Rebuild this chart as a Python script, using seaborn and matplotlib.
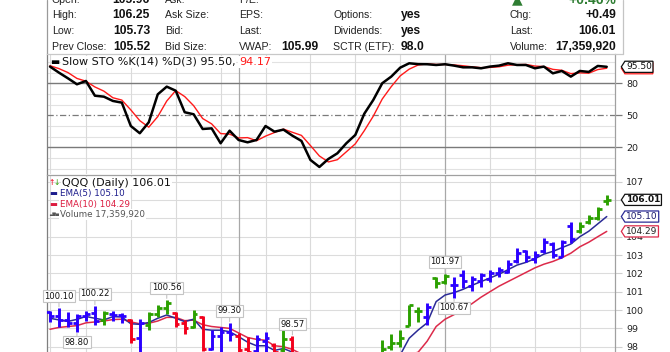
import matplotlib
matplotlib.use("Agg")
import matplotlib.pyplot as plt
from matplotlib.lines import Line2D
from matplotlib.path import Path
import numpy as np
import pandas as pd
import seaborn as sns

# ---------------- data ----------------
sto_k = [95.7, 90.0, 84.7, 79.1, 82.2, 68.4, 67.5, 63.5, 61.9, 40.0,
         33.2, 43.5, 69.7, 76.9, 73.1, 52.9, 51.0, 37.2, 37.8, 23.8,
         35.6, 26.9, 24.7, 26.9, 40.0, 34.7, 36.6, 30.9, 26.0, 8.2,
         1.6, 9.1, 14.4, 23.8, 31.6, 51.5, 64.4, 80.1, 86.3, 94.7,
         98.8, 98.0, 97.9, 97.2, 97.9, 96.6, 95.0, 95.0, 94.1, 95.7,
         96.6, 98.8, 97.2, 97.2, 94.1, 95.7, 89.4, 91.6, 86.3, 91.6,
         90.7, 96.3, 95.5]
sto_d = [96.5, 93.8, 90.1, 84.6, 82.0, 76.6, 72.7, 66.5, 64.3, 55.1,
         45.0, 38.9, 48.8, 63.4, 73.2, 67.6, 59.0, 47.0, 42.0, 32.9,
         32.4, 28.8, 29.1, 26.2, 30.5, 33.9, 37.1, 34.1, 31.2, 21.7,
         11.9, 6.3, 8.4, 15.8, 23.3, 35.6, 49.2, 65.3, 76.9, 87.0,
         93.3, 97.2, 98.2, 97.7, 97.7, 97.2, 96.5, 95.5, 94.7, 94.9,
         95.5, 97.0, 97.5, 97.7, 96.2, 95.7, 93.1, 92.2, 89.1, 89.8,
         89.5, 92.9, 94.17]

opens = [99.90, 99.65, 99.45, 99.30, 99.65, 99.85, 99.45, 99.80, 99.75, 99.45,
         98.50, 99.20, 99.80, 100.10, 99.85, 99.30, 99.10, 99.60, 97.90, 98.60,
         98.80, 98.60, 97.90, 97.75, 98.30, 98.10, 97.80, 98.40, 97.50, 97.00,
         96.20, 95.80, 96.00, 96.40, 96.80, 97.00, 97.30, 97.60, 98.00, 98.20,
         99.15, 99.95, 99.60, 101.75, 101.55, 101.35, 101.90, 101.30, 101.60, 101.70,
         102.00, 102.10, 102.70, 103.20, 102.80, 103.20, 103.60, 102.90, 104.60, 104.30,
         104.80, 105.00, 105.96]
highs = [99.97, 100.10, 99.90, 99.80, 99.95, 100.22, 99.95, 99.95, 99.85, 99.50,
         99.50, 99.90, 100.30, 100.56, 99.90, 99.45, 100.00, 99.70, 98.90, 99.09,
         99.30, 98.73, 98.55, 98.64, 98.82, 98.18, 98.90, 98.57, 97.65, 97.10,
         96.40, 96.30, 96.60, 96.90, 97.20, 97.50, 97.65, 98.37, 98.68, 98.90,
         100.28, 100.18, 100.37, 101.82, 101.97, 101.78, 102.18, 101.85, 102.00, 102.18,
         102.37, 102.73, 103.37, 103.28, 103.24, 103.91, 103.73, 103.82, 104.82, 104.82,
         105.18, 105.60, 106.25]
lows = [99.36, 99.09, 99.10, 98.80, 99.40, 99.20, 99.20, 99.40, 99.30, 98.20,
        97.60, 98.90, 99.60, 99.80, 99.10, 98.70, 99.00, 97.75, 97.80, 97.60,
        98.30, 97.60, 97.60, 97.60, 97.60, 97.50, 97.60, 97.50, 96.90, 96.00,
        95.60, 95.50, 95.80, 96.20, 96.60, 96.80, 97.00, 97.55, 97.80, 98.00,
        99.15, 99.37, 99.18, 101.18, 101.40, 100.67, 101.18, 101.05, 101.27, 101.55,
        101.82, 102.00, 102.55, 102.60, 102.55, 103.10, 102.82, 102.88, 103.64, 104.19,
        104.69, 104.91, 105.73]
closes = [99.65, 99.45, 99.30, 99.70, 99.80, 99.40, 99.85, 99.75, 99.70, 98.40,
          99.30, 99.80, 100.10, 100.40, 99.25, 99.00, 99.80, 97.90, 98.60, 98.80,
          98.70, 97.80, 97.70, 98.40, 98.50, 97.70, 98.40, 97.60, 97.10, 96.20,
          95.70, 96.10, 96.40, 96.80, 97.10, 97.30, 97.50, 97.90, 98.20, 98.50,
          100.25, 99.95, 100.15, 101.50, 101.85, 101.35, 101.60, 101.70, 101.90, 102.00,
          102.20, 102.50, 103.10, 102.90, 103.00, 103.70, 103.00, 103.70, 103.90, 104.60,
          105.00, 105.52, 106.01]
bar_impulse = list("bbbbbbgbbrbgggrrgrbbbrrbbrgr"   # bars 0-27
                   "rrrbbgggg"                      # bars 28-36
                   "gggggbgg"                       # bars 37-44
                   "bbbbbbbbbbbbbb"                 # bars 45-58
                   "gggg")                          # bars 59-62

ema5 = [99.55, 99.46, 99.38, 99.49, 99.65, 99.55, 99.46, 99.64, 99.62, 99.25,
        99.22, 99.32, 99.55, 99.73, 99.55, 99.37, 99.50, 98.95, 98.90, 98.90,
        98.82, 98.55, 98.25, 98.05, 98.05, 97.80, 97.90, 97.70, 97.40, 96.90,
        96.50, 96.35, 96.35, 96.50, 96.70, 96.90, 97.10, 97.30, 97.40, 97.55,
        98.46, 98.91, 99.30, 100.46, 100.82, 100.95, 101.13, 101.35, 101.55, 101.75,
        101.95, 102.20, 102.45, 102.60, 102.80, 103.05, 103.20, 103.40, 103.60, 104.00,
        104.30, 104.70, 105.10]
ema10 = [98.95, 99.05, 99.10, 99.15, 99.30, 99.35, 99.40, 99.48, 99.50, 99.35,
         99.25, 99.28, 99.40, 99.60, 99.60, 99.42, 99.45, 99.20, 99.10, 99.05,
         99.00, 98.75, 98.50, 98.40, 98.35, 98.05, 98.00, 97.85, 97.60, 97.30,
         97.00, 96.85, 96.75, 96.70, 96.75, 96.85, 96.95, 97.10, 97.25, 97.40,
         97.55, 97.70, 98.30, 99.10, 99.50, 99.75, 100.05, 100.35, 100.70, 101.00,
         101.30, 101.55, 101.80, 102.05, 102.30, 102.50, 102.65, 102.85, 103.10, 103.45,
         103.70, 104.00, 104.29]

label_bars = [1, 3, 5, 13, 20, 27, 44, 45]
label_kind = ["H", "L", "H", "H", "H", "H", "H", "L"]

week_lines = [0, 4, 9, 14, 19, 24, 29, 34, 39, 49, 54, 59]
month_lines = [21, 44]

sto_ticks = [20, 50, 80]
price_ticks = [98, 99, 100, 101, 102, 103, 104, 107]

hdr_col1_lab = ["Open:", "High:", "Low:", "Prev Close:"]
hdr_col1_val = ["105.96", "106.25", "105.73", "105.52"]
hdr_col2_lab = ["Ask:", "Ask Size:", "Bid:", "Bid Size:"]
hdr_col3_lab = ["P/E:", "EPS:", "Last:", "VWAP:"]
hdr_col3_val = ["", "", "", "105.99"]
hdr_col4_lab = ["", "Options:", "Dividends:", "SCTR (ETF):"]
hdr_col4_val = ["", "yes", "yes", "98.0"]
hdr_col5_lab = ["", "Chg:", "Last:", "Volume:"]
hdr_col5_val = ["", "+0.49", "106.01", "17,359,920"]
pct_change = "+0.46%"

# ---------------- styling ----------------
sns.set_theme(style="white")
plt.rcParams['font.family'] = ['DejaVu Sans']

W, H = 670, 352
fig = plt.figure(figsize=(W / 100, H / 100), dpi=100)
fig.patch.set_facecolor("white")


def X(px):
    return px / W


def Y(py):
    return 1 - py / H


COL = {"b": "#2a00ff", "g": "#2ba000", "r": "#f2001c"}
n = len(closes)
idx = np.arange(n)
XLIM = (-0.334, 62.92)

df = pd.DataFrame({"bar": idx, "k": sto_k, "d": sto_d, "ema5": ema5, "ema10": ema10})

# ---------------- header ----------------
hfam = "Liberation Sans"
rows = [2.6, 18.3, 34.1, 49.9]
lab_kw = dict(family=hfam, fontsize=7.6, color="#222222", va="baseline")
val_kw = dict(family=hfam, fontsize=8.7, fontweight="bold", color="#111111", va="baseline")
for r, yb in enumerate(rows):
    fig.text(X(51.7), Y(yb), hdr_col1_lab[r], ha="left", **lab_kw)
    fig.text(X(150), Y(yb), hdr_col1_val[r], ha="right", **val_kw)
    fig.text(X(165), Y(yb), hdr_col2_lab[r], ha="left", **lab_kw)
    fig.text(X(239.3), Y(yb), hdr_col3_lab[r], ha="left", **lab_kw)
    if hdr_col3_val[r]:
        fig.text(X(318.3), Y(yb), hdr_col3_val[r], ha="right", **val_kw)
    if hdr_col4_lab[r]:
        fig.text(X(333), Y(yb), hdr_col4_lab[r], ha="left", **lab_kw)
        fig.text(X(400.7), Y(yb), hdr_col4_val[r], ha="left", **val_kw)
    if hdr_col5_lab[r]:
        fig.text(X(510), Y(yb), hdr_col5_lab[r], ha="left", **lab_kw)
        fig.text(X(616), Y(yb), hdr_col5_val[r], ha="right", **val_kw)
fig.text(X(517), Y(3.0), "▲", ha="center", va="baseline", fontsize=10, color="#2e7d32")
fig.text(X(616), Y(3.5), pct_change, ha="right", va="baseline", family=hfam,
         fontsize=10, fontweight="bold", color="#2e7d32")

for (x0, y0, x1, y1, c) in [(46.7, 0, 46.7, 53.5, "#9a9a9a"),
                            (623.3, 0, 623.3, 53.5, "#c4c4c4"),
                            (46.7, 53.5, 623.3, 53.5, "#c8c8c8")]:
    fig.add_artist(Line2D([X(x0), X(x1)], [Y(y0), Y(y1)], color=c, lw=0.9,
                          transform=fig.transFigure))

# ---------------- axes ----------------
ax_s = fig.add_axes([X(47), Y(174), X(615) - X(47), (174 - 53.5) / H])
ax_p = fig.add_axes([X(47), Y(420), X(615) - X(47), (420 - 175) / H])

for ax in (ax_s, ax_p):
    ax.set_facecolor("white")
    ax.set_xlim(*XLIM)
    ax.set_xticks([])
    for w in week_lines:
        ax.axvline(w, color="#dadada", lw=0.8, zorder=0.5)
    for m in month_lines:
        ax.axvline(m, color="#a8a8a8", lw=0.9, zorder=0.6)
    ax.spines["left"].set_color("#7f7f7f")
    ax.spines["right"].set_color("#a0a0a0")
    ax.spines["left"].set_linewidth(0.9)
    ax.spines["right"].set_linewidth(0.9)
    ax.yaxis.tick_right()

# stochastic panel
ax_s.set_ylim((168.67 - 174) / 1.0667, (168.67 - 53.5) / 1.0667)
for v in [0, 10, 30, 40, 60, 70, 90, 100]:
    ax_s.axhline(v, color="#e2e2e2", lw=0.8, zorder=0.4)
ax_s.axhline(80, color="#7a7a7a", lw=1.0, zorder=1)
ax_s.axhline(20, color="#7a7a7a", lw=1.0, zorder=1)
ax_s.axhline(50, color="#7a7a7a", lw=0.9, zorder=1, linestyle=(0, (5, 2, 1, 2)))
sns.lineplot(data=df, x="bar", y="d", ax=ax_s, color="#ff1a1a", lw=1.0, zorder=3)
sns.lineplot(data=df, x="bar", y="k", ax=ax_s, color="black", lw=1.8, zorder=4)
ax_s.set_xlabel("")
ax_s.set_ylabel("")
ax_s.set_yticks(sto_ticks)
ax_s.set_yticklabels([str(t) for t in sto_ticks])
ax_s.tick_params(axis="y", right=True, left=False, length=5, width=0.9, color="#7a7a7a",
                 labelsize=6.8, pad=3, labelcolor="#222222")
ax_s.spines["top"].set_visible(False)
ax_s.spines["bottom"].set_visible(False)

# price panel
ax_p.set_ylim(94.0, 107.367)
for v in range(94, 108):
    ax_p.axhline(v, color="#dcdcdc", lw=0.8, zorder=0.4)
sns.lineplot(data=df, x="bar", y="ema10", ax=ax_p, color="#dc2a4a", lw=1.1, zorder=2.2)
sns.lineplot(data=df, x="bar", y="ema5", ax=ax_p, color="#2b2b96", lw=1.1, zorder=2.3)
cols = [COL[c] for c in bar_impulse]
tick = 0.42
ax_p.vlines(idx, lows, highs, colors=cols, lw=2.1, zorder=3, capstyle="butt")
ax_p.hlines(opens, idx - tick, idx, colors=cols, lw=2.0, zorder=3, capstyle="butt")
ax_p.hlines(closes, idx, idx + tick, colors=cols, lw=2.0, zorder=3, capstyle="butt")
ax_p.set_xlabel("")
ax_p.set_ylabel("")
ax_p.set_yticks(list(range(94, 108)))
ax_p.set_yticklabels([str(t) if t in price_ticks else "" for t in range(94, 108)])
ax_p.tick_params(axis="y", right=True, left=False, length=5, width=0.8, color="#cfcfcf",
                 labelsize=6.8, pad=3, labelcolor="#222222")
ax_p.spines["top"].set_color("#a0a0a0")
ax_p.spines["top"].set_linewidth(0.9)

# swing labels
for b, kind in zip(label_bars, label_kind):
    val = highs[b] if kind == "H" else lows[b]
    off = 12 if kind == "H" else -10
    ax_p.annotate(f"{val:.2f}", xy=(b, val), xytext=(0, off), textcoords="offset pixels",
                  ha="center", va="center", fontsize=6.1, color="#111111", zorder=6,
                  bbox=dict(boxstyle="square,pad=0.18", fc="white", ec="#c4c4c4", lw=0.8),
                  arrowprops=dict(arrowstyle="-", color="#c4c4c4", lw=0.8, shrinkA=0, shrinkB=1))


# right-side value tags
def tag_box(x0, y0, width, height, mutation_size):
    pad = 0.12 * mutation_size
    x0 -= pad
    y0 -= pad
    width += 2 * pad
    height += 2 * pad
    x1, y1 = x0 + width, y0 + height
    tip = height * 0.32
    verts = [(x0, y0), (x1, y0), (x1, y1), (x0, y1), (x0 - tip, (y0 + y1) / 2), (x0, y0)]
    return Path(verts, closed=True)


def tag(ax, val, text, ec, tc, weight="normal", z=7):
    ax.annotate(text, xy=(1, val), xycoords=ax.get_yaxis_transform(), xytext=(11, 0),
                textcoords="offset pixels", ha="left", va="center", fontsize=6.5,
                color=tc, fontweight=weight, zorder=z, annotation_clip=False,
                bbox=dict(boxstyle=tag_box, fc="white", ec=ec, lw=0.9))


tag(ax_s, sto_d[-1], f"{sto_d[-1]:.2f}", "#ff1a1a", "#ff1a1a", z=7)
tag(ax_s, sto_k[-1], f"{sto_k[-1]:.2f}", "#111111", "#111111", z=8)
tag(ax_p, ema10[-1], f"{ema10[-1]:.2f}", "#dc2a4a", "#222222", z=7)
tag(ax_p, ema5[-1], f"{ema5[-1]:.2f}", "#2b2b96", "#1a1a6e", z=8)
tag(ax_p, closes[-1], f"{closes[-1]:.2f}", "#111111", "#111111", weight="bold", z=9)

# ---------------- legends ----------------
wbg = dict(boxstyle="square,pad=0.1", fc="white", ec="none")
fig.text(X(50), Y(61.7), "▬", ha="left", va="center", fontsize=7, color="black")
t1 = fig.text(X(61.7), Y(61.7), f"Slow STO %K(14) %D(3) {sto_k[-1]:.2f},", ha="left",
              va="center", fontsize=8, color="#111111", bbox=wbg)
fig.canvas.draw()
bb = t1.get_window_extent(fig.canvas.get_renderer())
fig.text((bb.x1 + 3.6) / W, Y(61.7), f"{sto_d[-1]:.2f}", ha="left", va="center",
         fontsize=8, color="#ff1a1a", bbox=wbg)

fig.text(X(48.5), Y(182.7), "↑", ha="left", va="center", fontsize=5.5, color="#f2001c")
fig.text(X(53.5), Y(182.7), "↓", ha="left", va="center", fontsize=5.5, color="#2ba000")
fig.text(X(62), Y(182.7), f"QQQ (Daily) {closes[-1]:.2f}", ha="left", va="center",
         fontsize=8, color="#111111", bbox=wbg)
fig.text(X(49), Y(193.3), "▬", ha="left", va="center", fontsize=6, color="#1c1c8c")
fig.text(X(60), Y(193.3), f"EMA(5) {ema5[-1]:.2f}", ha="left", va="center",
         fontsize=6.3, color="#1c1c8c", bbox=wbg)
fig.text(X(49), Y(204), "▬", ha="left", va="center", fontsize=6, color="#dc1c40")
fig.text(X(60), Y(204), f"EMA(10) {ema10[-1]:.2f}", ha="left", va="center",
         fontsize=6.3, color="#dc1c40", bbox=wbg)
fig.text(X(49), Y(214.3), "▃▇▅", ha="left", va="center", fontsize=3.2, color="#555555")
fig.text(X(60), Y(214.3), "Volume 17,359,920", ha="left", va="center",
         fontsize=6.3, color="#555555", bbox=wbg)

fig.savefig("out.png", dpi=100, facecolor="white")
